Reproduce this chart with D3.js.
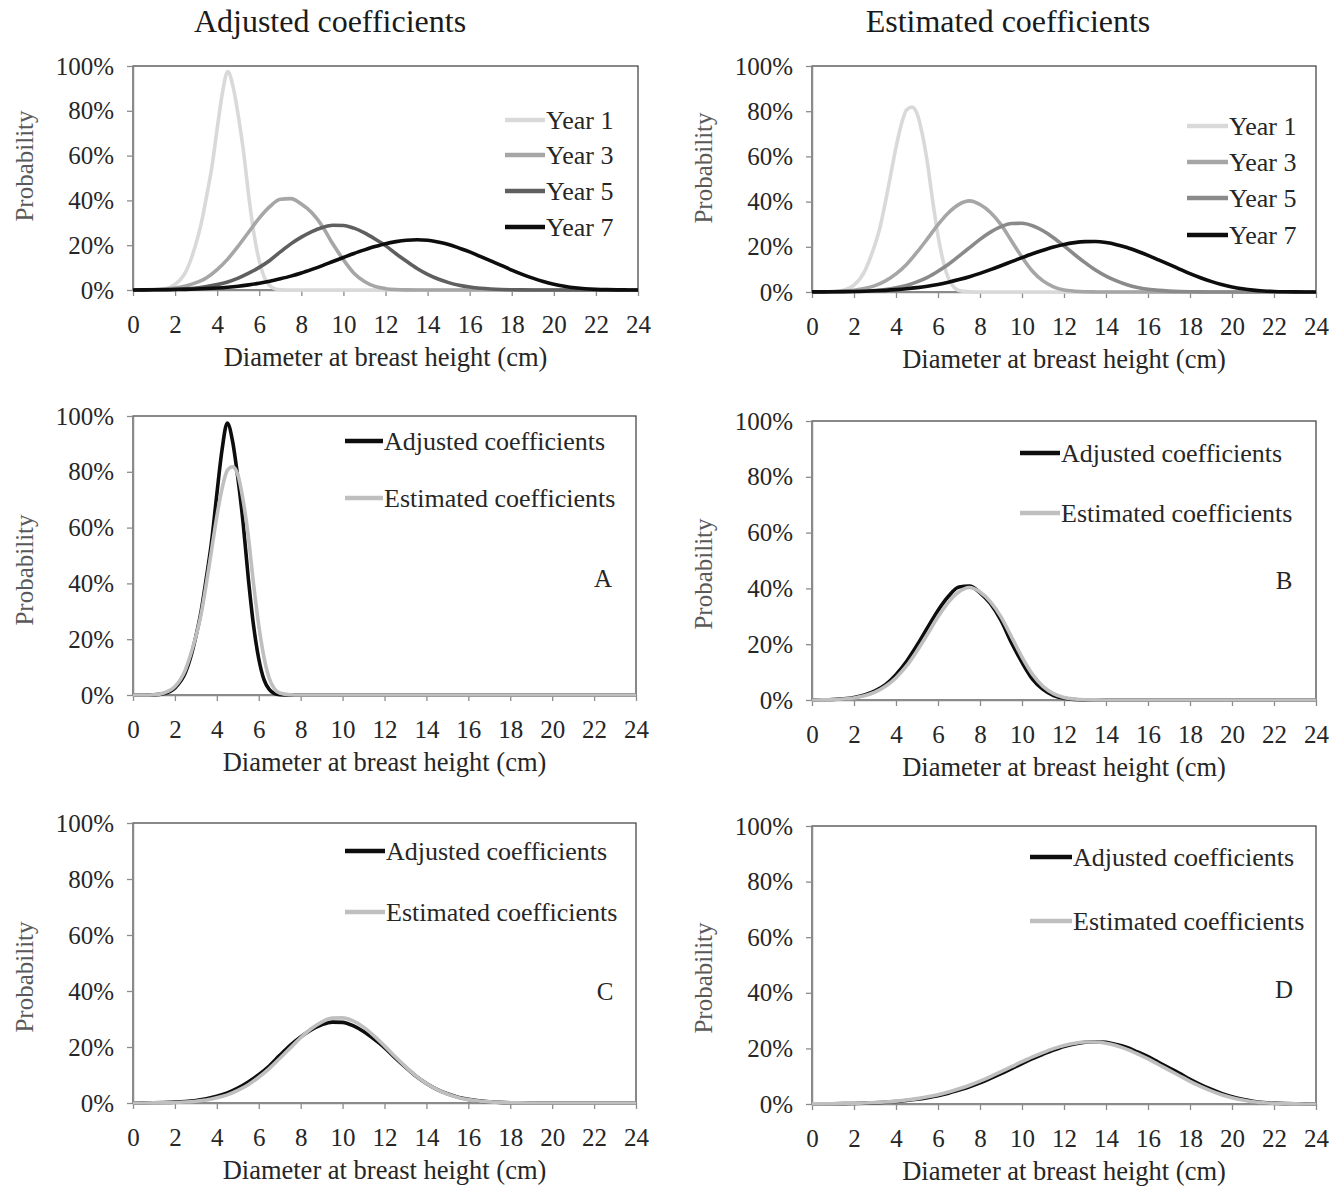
<!DOCTYPE html>
<html>
<head>
<meta charset="utf-8">
<script src="https://cdn.jsdelivr.net/npm/d3@7"></script>
<style>
  html, body { margin: 0; padding: 0; background: #fff; }
  svg text { font-family: "Liberation Serif", "Times New Roman", serif; }
</style>
</head>
<body>
<svg id="chart" width="1342" height="1188"></svg>
<script>
// ---- data (probability in %) ----
const columnTitles = ['Adjusted coefficients', 'Estimated coefficients'];
const yearLabels = ['Year 1', 'Year 3', 'Year 5', 'Year 7'];
const pairLabels = ['Adjusted coefficients', 'Estimated coefficients'];
const panelLetters = ['A', 'B', 'C', 'D'];
const xTicks = [0, 2, 4, 6, 8, 10, 12, 14, 16, 18, 20, 22, 24];
const yTicks = [0, 20, 40, 60, 80, 100];

// year 1 is narrow, so it is sampled more densely around the peak
const xYear1 = [0, 0.5, 1, 1.5, 2, 2.5, 2.75, 3, 3.25, 3.5, 3.75, 4, 4.25, 4.5, 4.75,
    5, 5.25, 5.5, 5.75, 6, 6.25, 6.5, 6.75, 7, 7.5, 8, 24];
const adjYear1 = [0, 0, 0.05, 0.5, 2.5, 8, 13.5, 21, 30, 42, 55, 72, 88, 97.5, 91,
    78, 62, 42, 25, 13, 5.5, 2, 0.5, 0.1, 0, 0, 0];
const estYear1 = [0, 0, 0.1, 0.8, 3, 9, 14.5, 21, 29, 40, 52, 64, 74, 80.5, 81.8,
    79, 70, 57, 40, 25, 13.5, 6, 2.2, 0.7, 0.1, 0, 0];

const xGrid = [0, 0.5, 1, 1.5, 2, 2.5, 3, 3.5, 4, 4.5, 5, 5.5, 6, 6.5, 7, 7.5, 8, 8.5, 9, 9.5,
    10, 10.5, 11, 11.5, 12, 12.5, 13, 13.5, 14, 14.5, 15, 15.5, 16, 16.5, 17, 17.5, 18, 18.5, 19, 19.5,
    20, 20.5, 21, 21.5, 22, 22.5, 23, 23.5, 24];
const adjYear3 = [0.03, 0.08, 0.19, 0.43, 0.9, 1.8, 3.3, 5.5, 9.1, 13.8,
    19.6, 25.9, 32.1, 37.2, 40.5, 40.8, 38.4, 34.5, 28.5, 20.5,
    13.5, 7.5, 3.8, 1.6, 0.6, 0.2, 0.05, 0, 0, 0,
    0, 0, 0, 0, 0, 0, 0, 0, 0, 0,
    0, 0, 0, 0, 0, 0, 0, 0, 0];
const estYear3 = [0.02, 0.05, 0.15, 0.35, 0.75, 1.5, 2.8, 4.9, 8.0, 12.2,
    17.6, 23.6, 29.8, 35.1, 38.8, 40.3, 38.7, 35.2, 29.8, 22.6,
    15.4, 9.2, 4.9, 2.3, 0.9, 0.35, 0.1, 0.03, 0, 0,
    0, 0, 0, 0, 0, 0, 0, 0, 0, 0,
    0, 0, 0, 0, 0, 0, 0, 0, 0];
const adjYear5 = [0.02, 0.04, 0.08, 0.16, 0.3, 0.54, 0.92, 1.5, 2.4, 3.6,
    5.3, 7.5, 10.1, 13.2, 17.0, 20.6, 23.6, 26.1, 27.9, 28.9,
    28.8, 27.6, 25.5, 22.8, 19.8, 16.2, 12.8, 9.6, 7.0, 4.9,
    3.3, 2.1, 1.3, 0.75, 0.42, 0.22, 0.11, 0.05, 0.02, 0.01,
    0, 0, 0, 0, 0, 0, 0, 0, 0];
const estYear5 = [0.01, 0.02, 0.05, 0.1, 0.19, 0.36, 0.65, 1.1, 1.85, 2.9,
    4.5, 6.5, 9.2, 12.3, 15.9, 19.6, 23.3, 26.5, 28.9, 30.3,
    30.4, 29.3, 27.1, 24.0, 20.4, 16.6, 13.0, 9.7, 7.0, 4.9,
    3.2, 2.0, 1.2, 0.7, 0.4, 0.22, 0.11, 0.05, 0.02, 0.01,
    0, 0, 0, 0, 0, 0, 0, 0, 0];
const adjYear7 = [0.03, 0.05, 0.08, 0.13, 0.2, 0.3, 0.44, 0.64, 0.9, 1.25,
    1.7, 2.3, 3.0, 3.9, 5.0, 6.2, 7.6, 9.2, 10.9, 12.7,
    14.5, 16.3, 17.9, 19.4, 20.7, 21.6, 22.2, 22.4, 22.2, 21.4,
    20.3, 18.7, 17.0, 15.0, 13.0, 11.0, 8.9, 7.0, 5.3, 3.8,
    2.6, 1.7, 1.0, 0.55, 0.3, 0.15, 0.07, 0.03, 0.01];
const estYear7 = [0.04, 0.06, 0.1, 0.16, 0.24, 0.36, 0.52, 0.74, 1.04, 1.43,
    1.94, 2.58, 3.36, 4.34, 5.48, 6.76, 8.24, 9.88, 11.62, 13.42,
    15.22, 16.94, 18.5, 19.92, 21.06, 21.84, 22.28, 22.32, 21.88, 20.96,
    19.66, 18.02, 16.2, 14.2, 12.2, 10.16, 8.14, 6.32, 4.7, 3.32,
    2.24, 1.42, 0.82, 0.45, 0.24, 0.12, 0.05, 0.02, 0.01];

const series = (xs, ys) => xs.map((x, i) => ({x: x, y: ys[i]}));

const adjusted = [series(xYear1, adjYear1), series(xGrid, adjYear3), series(xGrid, adjYear5), series(xGrid, adjYear7)];
const estimated = [series(xYear1, estYear1), series(xGrid, estYear3), series(xGrid, estYear5), series(xGrid, estYear7)];

// ---- layout ----
const svg = d3.select('#chart');
const textColor = '#262626';
const adjColor = '#0d0d0d';
const estColor = '#bfbfbf';
const yearColorsAdj = ['#d9d9d9', '#a6a6a6', '#5f5f5f', '#0d0d0d'];
const yearColorsEst = ['#d9d9d9', '#a6a6a6', '#8a8a8a', '#0d0d0d'];

const panels = [
    {left: 133, right: 638, top: 66, bottom: 290, probY: 166,
        lines: adjusted.map((d, i) => ({data: d, color: yearColorsAdj[i], label: yearLabels[i]})),
        legend: {x1: 505, x2: 545, ys: [120, 155, 191, 227]}},
    {left: 812, right: 1316, top: 66, bottom: 292, probY: 168,
        lines: estimated.map((d, i) => ({data: d, color: yearColorsEst[i], label: yearLabels[i]})),
        legend: {x1: 1187, x2: 1228, ys: [126, 162, 198, 235]}}
];
const pairBoxes = [
    {left: 133, right: 636, top: 416, bottom: 695, probY: 570, legend: {x1: 345, x2: 383, ys: [441, 498]}, letter: [603, 578]},
    {left: 812, right: 1316, top: 421, bottom: 700, probY: 574, legend: {x1: 1020, x2: 1060, ys: [453, 513]}, letter: [1284, 580]},
    {left: 133, right: 636, top: 823, bottom: 1103, probY: 977, legend: {x1: 345, x2: 385, ys: [851, 912]}, letter: [605, 991]},
    {left: 812, right: 1316, top: 826, bottom: 1104, probY: 978, legend: {x1: 1030, x2: 1072, ys: [857, 921]}, letter: [1284, 989]}
];
pairBoxes.forEach((p, i) => {
    p.lines = [
        {data: adjusted[i], color: adjColor, label: pairLabels[0]},
        {data: estimated[i], color: estColor, label: pairLabels[1]}
    ];
    p.letterText = panelLetters[i];
    panels.push(p);
});

function drawPanel(p) {
    const w = p.right - p.left;
    const h = p.bottom - p.top;
    const g = svg.append('g').attr('transform', `translate(${p.left},${p.top})`);
    const x = d3.scaleLinear().domain([0, 24]).range([0, w]);
    const y = d3.scaleLinear().domain([0, 100]).range([h, 0]);

    // plot frame
    g.append('rect').attr('width', w).attr('height', h)
        .attr('fill', 'none').attr('stroke', '#3a3a3a').attr('stroke-width', 1.2);

    const xAxis = g.append('g').attr('transform', `translate(0,${h})`)
        .call(d3.axisBottom(x).tickValues(xTicks).tickSizeInner(6).tickSizeOuter(0).tickPadding(19));
    const yAxis = g.append('g')
        .call(d3.axisLeft(y).tickValues(yTicks).tickSizeInner(6).tickSizeOuter(0).tickPadding(13)
            .tickFormat((d) => d + '%'));
    [xAxis, yAxis].forEach((a) => {
        a.select('.domain').attr('stroke', '#8c8c8c').attr('stroke-width', 1.5);
        a.selectAll('.tick line').attr('stroke', '#8c8c8c').attr('stroke-width', 1.3);
        a.selectAll('.tick text').attr('fill', textColor).style('font-size', '25px');
    });

    const line = d3.line().x((d) => x(d.x)).y((d) => y(d.y)).curve(d3.curveMonotoneX);
    p.lines.forEach((s) => {
        g.append('path').datum(s.data).attr('d', line)
            .attr('fill', 'none').attr('stroke', s.color).attr('stroke-width', 3.6)
            .attr('stroke-linejoin', 'round');
    });

    // legend
    p.lines.forEach((s, i) => {
        const ly = p.legend.ys[i];
        svg.append('line').attr('x1', p.legend.x1).attr('x2', p.legend.x2)
            .attr('y1', ly).attr('y2', ly)
            .attr('stroke', s.color).attr('stroke-width', 4.5);
        svg.append('text').attr('x', p.legend.x2 + 1).attr('y', ly).attr('dy', '0.35em')
            .attr('fill', textColor).style('font-size', '26px').text(s.label);
    });

    if (p.letterText) {
        svg.append('text').attr('x', p.letter[0]).attr('y', p.letter[1]).attr('dy', '0.35em')
            .attr('text-anchor', 'middle').attr('fill', textColor).style('font-size', '25px')
            .text(p.letterText);
    }

    // axis titles
    svg.append('text').attr('x', p.left + w / 2).attr('y', p.bottom + 76)
        .attr('text-anchor', 'middle').attr('fill', textColor).style('font-size', '26.5px')
        .text('Diameter at breast height (cm)');
    const px = p.left - 100;
    svg.append('text').attr('transform', `translate(${px},${p.probY}) rotate(-90)`)
        .attr('text-anchor', 'middle').attr('fill', '#595959').style('font-size', '25px')
        .text('Probability');
}

panels.forEach(drawPanel);

svg.append('text').attr('x', 330).attr('y', 32).attr('text-anchor', 'middle')
    .attr('fill', '#1a1a1a').style('font-size', '32px').text(columnTitles[0]);
svg.append('text').attr('x', 1008).attr('y', 32).attr('text-anchor', 'middle')
    .attr('fill', '#1a1a1a').style('font-size', '32px').text(columnTitles[1]);
</script>
</body>
</html>
